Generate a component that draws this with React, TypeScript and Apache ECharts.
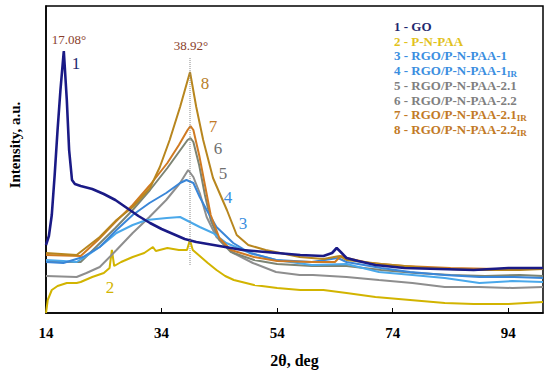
import React, { useEffect, useRef } from "react";
import * as echarts from "echarts";

const FONT = '"Liberation Serif", "Times New Roman", serif';

const legendNames = [
  "1 - GO",
  "2 - P-N-PAA",
  "3 - RGO/P-N-PAA-1",
  "4 - RGO/P-N-PAA-1",
  "5 - RGO/P-N-PAA-2.1",
  "6 - RGO/P-N-PAA-2.2",
  "7 - RGO/P-N-PAA-2.1",
  "8 - RGO/P-N-PAA-2.2",
];
const legendSub = ["", "", "", "IR", "", "", "IR", "IR"];
const legendColors = ["#1f2a70", "#e2c21c", "#3b8ee0", "#3b8ee0", "#7f7f7f", "#7f7f7f", "#c27a26", "#c27a26"];
const lineColors = ["#1a1a86", "#d2b400", "#4aa8ea", "#3a86d8", "#8e8e8e", "#7c8474", "#d07a22", "#b8861e"];

const xTicks = [14, 34, 54, 74, 94];

const goData = [
  [14, 68], [14.5, 77], [15, 98], [15.5, 138], [16, 183], [16.5, 223], [17.08, 262], [17.6, 213],
  [18, 163], [18.5, 133], [19, 129], [20, 127], [22, 124], [24, 119], [26, 113], [28, 105],
  [30, 97], [32, 90], [34, 84], [36, 79], [38, 74], [40, 71], [42, 69], [44, 67], [46, 65],
  [48, 63], [50, 62], [54, 60], [58, 58], [62, 57], [63.5, 60], [64.3, 65], [65, 61], [66, 55],
  [68, 52], [71, 48], [76, 45], [82, 44], [88, 43], [94, 45], [100, 45],
];
const pnpaaData = [
  [14, 0], [14.3, 13], [15, 23], [16, 27], [17.6, 30], [19.3, 30], [20, 31], [22, 36], [24, 40],
  [25, 45], [25.4, 63], [25.8, 47], [27, 51], [29, 56], [31, 60], [32.5, 66], [33, 62], [35, 65],
  [37, 63], [38.4, 63], [38.9, 73], [39.4, 63], [40, 60], [41, 55], [42, 50], [43.5, 43],
  [45, 37], [46.5, 33], [50, 28], [54, 25], [58, 23], [62, 23], [66, 20], [71, 16], [77, 13],
  [83, 10], [88, 9], [94, 9], [100, 11],
];
const rgo1Data = [
  [14, 53], [17, 52], [19.3, 51], [21, 57], [23.3, 66], [26.2, 80], [29, 88], [31.4, 93],
  [34.9, 95], [37.2, 96], [38.9, 91], [40.6, 86], [42.9, 80], [45.2, 70], [49.3, 60], [53.8, 53],
  [60, 48], [66, 49], [71.6, 41], [77.4, 38], [83, 35], [89, 30], [94.7, 32], [100, 31],
];
const rgo1irData = [
  [14, 51], [17, 50], [20.4, 56], [23.3, 66], [26.2, 83], [29, 98], [31.9, 110], [34.8, 120],
  [37.2, 130], [38.3, 133], [39.5, 130], [40.6, 116], [41.8, 103], [43.5, 86], [46.4, 70],
  [49.3, 60], [53.8, 53], [60, 51], [64.5, 55], [66, 51], [72, 45], [77, 41], [83, 38], [89, 36],
  [95, 36], [100, 35],
];
const rgo21Data = [
  [14, 37], [19.3, 36], [21, 40], [23.3, 46], [26.2, 63], [29, 80], [31.9, 96], [34.8, 113],
  [37.2, 130], [38.6, 143], [39.5, 136], [40.6, 120], [41.8, 96], [43.5, 76], [46.4, 60],
  [49.8, 50], [53.8, 41], [57.9, 38], [60.2, 38], [66, 36], [71.6, 33], [77.4, 30], [83, 26],
  [88.9, 26], [94.7, 25], [100, 26],
];
const rgo22Data = [
  [14, 51], [20, 51], [23, 68], [26, 85], [29, 103], [32, 123], [35, 145], [37, 161], [38.5, 173],
  [39, 175], [39.5, 171], [40.5, 148], [41.5, 118], [42.5, 93], [44, 73], [46, 61], [50, 53],
  [54, 49], [60, 47], [66, 47], [72, 43], [78, 40], [84, 38], [90, 37], [96, 38], [100, 37],
];
const rgo21irData = [
  [14, 58], [20, 57], [23, 73], [26, 91], [29, 108], [32, 128], [35, 150], [37, 168], [38.5, 183],
  [39, 187], [39.5, 183], [40.5, 158], [41.5, 128], [42.5, 98], [44, 75], [46, 63], [50, 56],
  [54, 52], [60, 51], [64, 51], [65, 57], [66, 55], [70, 50], [76, 47], [84, 45], [92, 44], [100, 45],
];
const rgo22irData = [
  [14, 60], [19.3, 58], [23.3, 76], [26.2, 93], [29, 106], [32, 125], [33.7, 146], [35.4, 173],
  [37.2, 206], [38.92, 241], [40, 206], [41.2, 173], [42.9, 135], [45.3, 103], [47, 78], [49, 68],
  [52, 63], [57.9, 56], [62, 54], [64.8, 57], [66, 53], [72, 49], [80, 45], [88, 43], [96, 43], [100, 44],
];
const seriesData = [goData, pnpaaData, rgo1Data, rgo1irData, rgo21Data, rgo22Data, rgo21irData, rgo22irData];
const drawOrder = [1, 4, 5, 2, 3, 6, 7, 0];

const peakLine = [[38.92, 48], [38.92, 256]];
const peakLabels = ["17.08°", "38.92°"];

// curve number labels: [text, left, top]
const curveLabels: [string, number, number][] = [
  ["1", 76, 63], ["2", 110, 287], ["3", 243, 223], ["4", 228, 197],
  ["5", 223, 173], ["6", 218, 148], ["7", 213, 126], ["8", 205, 83],
];
const curveLabelColors = ["#1f2a70", "#d2b400", "#3b8ee0", "#3b8ee0", "#6f6f6f", "#6f6f6f", "#c27a26", "#b8802a"];

export default function App() {
  const ref = useRef<HTMLDivElement>(null);
  useEffect(() => {
    document.body.style.margin = "0";
    const chart = echarts.init(ref.current!, null, { renderer: "svg" });
    const series: any[] = drawOrder.map((i) => ({
      type: "line",
      name: legendNames[i],
      data: seriesData[i],
      showSymbol: false,
      symbol: "none",
      silent: true,
      z: 2,
      lineStyle: { color: lineColors[i], width: i === 0 ? 2.6 : 2 },
    }));
    series.push({
      type: "line",
      data: peakLine,
      showSymbol: false,
      symbol: "none",
      silent: true,
      z: 3,
      lineStyle: { color: "#888", width: 1, type: "dotted" },
    });

    const graphics: any[] = [];
    legendNames.forEach((n, i) => {
      graphics.push({
        type: "text",
        left: 394,
        top: 20 + i * 14.7,
        style: {
          text: legendSub[i] ? `{m|${n}}{s|${legendSub[i]}}` : `{m|${n}}`,
          rich: {
            m: { fill: legendColors[i], fontSize: 13, fontWeight: "bold", fontFamily: FONT, lineHeight: 16 },
            s: { fill: legendColors[i], fontSize: 9, fontWeight: "bold", fontFamily: FONT, lineHeight: 9, verticalAlign: "bottom" },
          },
        },
      });
    });
    curveLabels.forEach(([t, x, y], i) => {
      graphics.push({
        type: "text",
        x,
        y,
        style: { text: t, fill: curveLabelColors[i], font: `17px ${FONT}`, align: "center", verticalAlign: "middle" },
      });
    });
    graphics.push({
      type: "text", x: 69, y: 39,
      style: { text: peakLabels[0], fill: "#8a3e2c", font: `13px ${FONT}`, align: "center", verticalAlign: "middle" },
    });
    graphics.push({
      type: "text", x: 191, y: 45,
      style: { text: peakLabels[1], fill: "#8a3e2c", font: `13px ${FONT}`, align: "center", verticalAlign: "middle" },
    });
    graphics.push({
      type: "text", x: 15, y: 145, rotation: Math.PI / 2,
      style: { text: "Intensity, a.u.", fill: "#000", font: `bold 15px ${FONT}`, align: "center", verticalAlign: "middle" },
    });

    chart.setOption({
      animation: false,
      grid: { left: 46, right: 7, top: 6, bottom: 60, show: true, borderColor: "#000", borderWidth: 1.5 },
      xAxis: {
        type: "value",
        min: 14,
        max: 100,
        interval: 20,
        axisLine: { lineStyle: { color: "#000", width: 1.5 } },
        axisTick: { inside: true, length: 5, lineStyle: { color: "#000", width: 1 } },
        axisLabel: {
          margin: 12,
          color: "#000",
          fontWeight: "bold",
          fontSize: 15,
          fontFamily: FONT,
          showMaxLabel: false,
          formatter: (v: number) => (xTicks.includes(Math.round(v)) ? String(Math.round(v)) : ""),
        },
        splitLine: { show: false },
        name: "2θ, deg",
        nameLocation: "middle",
        nameGap: 39,
        nameTextStyle: { color: "#000", fontWeight: "bold", fontSize: 16, fontFamily: FONT },
      },
      yAxis: {
        type: "value",
        min: 0,
        max: 307,
        axisLabel: { show: false },
        axisTick: { show: false },
        splitLine: { show: false },
        axisLine: { show: true, lineStyle: { color: "#000", width: 1.5 } },
      },
      series,
      graphic: graphics,
    });
    return () => chart.dispose();
  }, []);
  return <div ref={ref} style={{ width: 550, height: 373 }} />;
}
